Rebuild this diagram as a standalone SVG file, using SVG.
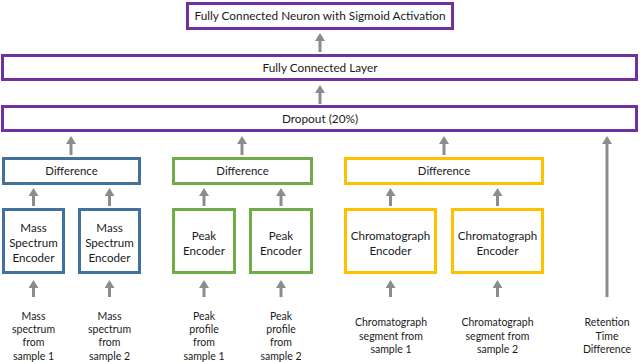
<svg xmlns="http://www.w3.org/2000/svg" width="640" height="362" viewBox="0 0 640 362">
<style>
  text { font-family: Lato, "Liberation Sans", sans-serif; fill: #1a1a1a; text-anchor: middle; }
  .t12 { font-size: 11.8px; }
  .dif { font-size: 11.4px; }
  .t13 { font-size: 11.6px; }
  .lbl { font-size: 10.5px; }
  rect { fill: #ffffff; stroke-width: 3; }
  .purple { stroke: #7030A0; }
  .blue { stroke: #41719C; }
  .green { stroke: #70AD47; }
  .yellow { stroke: #FFC000; }
  .arr { stroke: #8c8c8c; stroke-width: 3; fill: none; marker-end: url(#ah); }
</style>
<defs>
  <marker id="ah" viewBox="0 0 10 10" refX="0" refY="5" markerUnits="userSpaceOnUse" markerWidth="8" markerHeight="10" orient="auto" preserveAspectRatio="none">
    <path d="M0,0 L10,5 L0,10 z" fill="#8c8c8c"/>
  </marker>
</defs>
<rect width="640" height="362" fill="#ffffff" stroke="none"/>

<g id="connectors">
  <line class="arr" x1="320" y1="52" x2="320" y2="41"/>
  <line class="arr" x1="320" y1="104" x2="320" y2="93"/>
  <line class="arr" x1="71" y1="155" x2="71" y2="144"/>
  <line class="arr" x1="242" y1="155" x2="242" y2="144"/>
  <line class="arr" x1="444" y1="155" x2="444" y2="144"/>
  <line class="arr" x1="607" y1="297" x2="607" y2="144"/>
  <line class="arr" x1="33.5" y1="206" x2="33.5" y2="196"/>
  <line class="arr" x1="109.5" y1="206" x2="109.5" y2="196"/>
  <line class="arr" x1="204" y1="206" x2="204" y2="196"/>
  <line class="arr" x1="281" y1="206" x2="281" y2="196"/>
  <line class="arr" x1="390.5" y1="206" x2="390.5" y2="196"/>
  <line class="arr" x1="497.5" y1="206" x2="497.5" y2="196"/>
  <line class="arr" x1="33.5" y1="297" x2="33.5" y2="288"/>
  <line class="arr" x1="109.5" y1="297" x2="109.5" y2="288"/>
  <line class="arr" x1="204" y1="297" x2="204" y2="288"/>
  <line class="arr" x1="281" y1="297" x2="281" y2="288"/>
  <line class="arr" x1="390.5" y1="297" x2="390.5" y2="288"/>
  <line class="arr" x1="497.5" y1="297" x2="497.5" y2="288"/>
</g>

<g id="sigmoid">
  <rect class="purple" x="187.5" y="3.5" width="265" height="25"/>
  <text class="t12" x="320" y="20.3">Fully Connected Neuron with Sigmoid Activation</text>
</g>
<g id="fc-layer">
  <rect class="purple" x="2.5" y="55.5" width="634" height="24"/>
  <text class="t12" x="320" y="72.3">Fully Connected Layer</text>
</g>
<g id="dropout">
  <rect class="purple" x="2.5" y="106.5" width="634" height="24"/>
  <text class="t12" x="320" y="123.3">Dropout (20%)</text>
</g>

<g id="diff-mass">
  <rect class="blue" x="3.5" y="158.5" width="136" height="25"/>
  <text class="dif" x="71.5" y="175.3">Difference</text>
</g>
<g id="diff-peak">
  <rect class="green" x="173.5" y="158.5" width="138" height="25"/>
  <text class="dif" x="242.5" y="175.3">Difference</text>
</g>
<g id="diff-chrom">
  <rect class="yellow" x="345.5" y="158.5" width="197" height="25"/>
  <text class="dif" x="444" y="175.3">Difference</text>
</g>

<g id="enc-mass-1">
  <rect class="blue" x="3.5" y="209.5" width="60" height="63"/>
  <text class="t13" x="33.5"><tspan x="33.5" y="232">Mass</tspan><tspan x="33.5" y="247">Spectrum</tspan><tspan x="33.5" y="262">Encoder</tspan></text>
</g>
<g id="enc-mass-2">
  <rect class="blue" x="79.5" y="209.5" width="60" height="63"/>
  <text class="t13" x="109.5"><tspan x="109.5" y="232">Mass</tspan><tspan x="109.5" y="247">Spectrum</tspan><tspan x="109.5" y="262">Encoder</tspan></text>
</g>
<g id="enc-peak-1">
  <rect class="green" x="173.5" y="209.5" width="61" height="63"/>
  <text class="t13" x="204"><tspan x="204" y="240">Peak</tspan><tspan x="204" y="255">Encoder</tspan></text>
</g>
<g id="enc-peak-2">
  <rect class="green" x="250.5" y="209.5" width="61" height="63"/>
  <text class="t13" x="281"><tspan x="281" y="240">Peak</tspan><tspan x="281" y="255">Encoder</tspan></text>
</g>
<g id="enc-chrom-1">
  <rect class="yellow" x="345.5" y="209.5" width="90" height="63"/>
  <text class="t13" x="390.5"><tspan x="390.5" y="240">Chromatograph</tspan><tspan x="390.5" y="255">Encoder</tspan></text>
</g>
<g id="enc-chrom-2">
  <rect class="yellow" x="452.5" y="209.5" width="90" height="63"/>
  <text class="t13" x="497.5"><tspan x="497.5" y="240">Chromatograph</tspan><tspan x="497.5" y="255">Encoder</tspan></text>
</g>

<g id="input-mass-1">
  <text class="lbl" x="33.5"><tspan x="33.5" y="319.5">Mass</tspan><tspan x="33.5" y="333">spectrum</tspan><tspan x="33.5" y="346.3">from</tspan><tspan x="33.5" y="359.6">sample 1</tspan></text>
</g>
<g id="input-mass-2">
  <text class="lbl" x="109.5"><tspan x="109.5" y="319.5">Mass</tspan><tspan x="109.5" y="333">spectrum</tspan><tspan x="109.5" y="346.3">from</tspan><tspan x="109.5" y="359.6">sample 2</tspan></text>
</g>
<g id="input-peak-1">
  <text class="lbl" x="204"><tspan x="204" y="319.5">Peak</tspan><tspan x="204" y="333">profile</tspan><tspan x="204" y="346.3">from</tspan><tspan x="204" y="359.6">sample 1</tspan></text>
</g>
<g id="input-peak-2">
  <text class="lbl" x="281"><tspan x="281" y="319.5">Peak</tspan><tspan x="281" y="333">profile</tspan><tspan x="281" y="346.3">from</tspan><tspan x="281" y="359.6">sample 2</tspan></text>
</g>
<g id="input-chrom-1">
  <text class="lbl" x="391"><tspan x="391" y="326">Chromatograph</tspan><tspan x="391" y="339.5">segment from</tspan><tspan x="391" y="353">sample 1</tspan></text>
</g>
<g id="input-chrom-2">
  <text class="lbl" x="497.5"><tspan x="497.5" y="326">Chromatograph</tspan><tspan x="497.5" y="339.5">segment from</tspan><tspan x="497.5" y="353">sample 2</tspan></text>
</g>
<g id="input-rt">
  <text class="lbl" x="607"><tspan x="607" y="326">Retention</tspan><tspan x="607" y="339.5">Time</tspan><tspan x="607" y="353">Difference</tspan></text>
</g>
</svg>
